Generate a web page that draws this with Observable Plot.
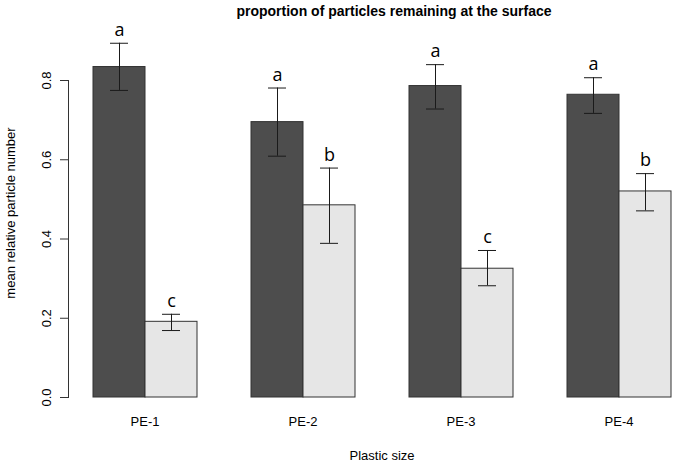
<!DOCTYPE html>
<html>
<head>
<meta charset="utf-8">
<script src="https://cdn.jsdelivr.net/npm/d3@7"></script>
<script src="https://cdn.jsdelivr.net/npm/@observablehq/plot@0.6"></script>
<style>
  html, body { margin: 0; padding: 0; background: #fff; }
  #wrap { position: relative; width: 675px; height: 466px; }
  #title { position: absolute; left: 0; top: 3px; width: 788px; text-align: center;
    font: bold 14px "Liberation Sans", Arial, sans-serif; color: #000; }
</style>
</head>
<body>
<div id="wrap">
  <div id="chart"></div>
  <div id="title">proportion of particles remaining at the surface</div>
</div>
<script>
const groups = ["PE-1", "PE-2", "PE-3", "PE-4"];
const series = ["series 1", "series 2"];
const mean1 = [0.834, 0.695, 0.786, 0.764];
const lower1 = [0.775, 0.609, 0.728, 0.717];
const upper1 = [0.894, 0.781, 0.840, 0.807];
const letters1 = ["a", "a", "a", "a"];
const mean2 = [0.191, 0.485, 0.325, 0.520];
const lower2 = [0.169, 0.389, 0.282, 0.471];
const upper2 = [0.210, 0.579, 0.371, 0.565];
const letters2 = ["c", "b", "c", "b"];
const yTicks = [0, 0.2, 0.4, 0.6, 0.8];
const yLabel = "mean relative particle number";

const data = [];
groups.forEach((g, i) => {
  data.push({group: g, series: series[0], mean: mean1[i], lower: lower1[i], upper: upper1[i], letter: letters1[i]});
  data.push({group: g, series: series[1], mean: mean2[i], lower: lower2[i], upper: upper2[i], letter: letters2[i]});
});

const font = '"Liberation Sans", Arial, sans-serif';
const chart = Plot.plot({
  width: 675,
  height: 466,
  marginLeft: 92,
  marginRight: 3,
  marginTop: 80,
  marginBottom: 69,
  style: {fontFamily: font, fontSize: "13px", background: "#fff", overflow: "visible"},
  fx: {domain: groups, paddingInner: 1/3, paddingOuter: 0, label: null},
  x: {domain: series, padding: 0, axis: null},
  y: {domain: [0, 0.8], axis: null},
  color: {domain: series, range: ["#4d4d4d", "#e6e6e6"]},
  marks: [
    Plot.barY(data, {fx: "group", x: "series", y: "mean", fill: "series", stroke: "#333", strokeWidth: 1}),
    Plot.ruleX(data, {fx: "group", x: "series", y1: "lower", y2: "upper", stroke: "#1a1a1a", strokeWidth: 1}),
    Plot.tickY(data, {fx: "group", x: "series", y: "lower", stroke: "#1a1a1a", strokeWidth: 1, inset: 17}),
    Plot.tickY(data, {fx: "group", x: "series", y: "upper", stroke: "#1a1a1a", strokeWidth: 1, inset: 17}),
    Plot.text(data, {fx: "group", x: "series", y: "upper", text: "letter", dy: -13, fontSize: 18, fontFamily: '"Open Sans", sans-serif', fill: "#000"}),
    Plot.axisY({ticks: yTicks, tickFormat: d3.format(".1f"), tickSize: 8, tickPadding: 10, tickRotate: -90, dx: -24,
      label: null, fontSize: 13, stroke: "#333"}),
    Plot.text([yLabel], {text: d => d, frameAnchor: "left", facetAnchor: "left", rotate: -90, textAnchor: "middle",
      dx: -82, dy: -26, fontSize: 13, fill: "#000"}),
    Plot.frame({anchor: "left", facetAnchor: "left", dx: -24, stroke: "#333"}),
    Plot.axisFx({anchor: "bottom", tickSize: 0, tickPadding: 19, label: "Plastic size", labelAnchor: "center", labelOffset: 62, labelArrow: "none", fontSize: 13})
  ]
});
document.getElementById("chart").appendChild(chart);
</script>
</body>
</html>
